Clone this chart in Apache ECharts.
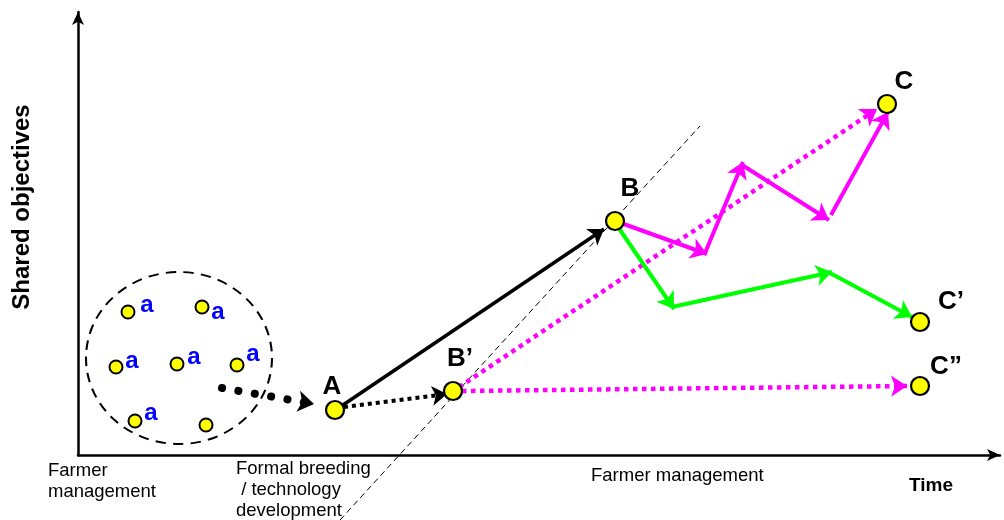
<!DOCTYPE html>
<html><head><meta charset="utf-8">
<script src="https://cdn.jsdelivr.net/npm/echarts@6/dist/echarts.min.js"></script>
<style>html,body{margin:0;padding:0;background:#fff}#c{width:1004px;height:520px}</style>
</head><body><div id="c"></div>
<script>
// Diagram coordinates: x = time units, y = shared-objective units (origin at axis corner)
const groupX = [50, 124, 38, 99, 159, 57, 128];
const groupY = [143, 148, 88, 91, 90, 34, 30];
const groupLabels = ['a', 'a', 'a', 'a', 'a', 'a', ''];
const groupCircle = [101, 97];

const keyNames = ['A', 'B\u2019', 'B', 'C', 'C\u2019', 'C\u201D'];
const keyX = [257, 375, 537, 809, 842, 842];
const keyY = [45, 64, 234, 351, 133, 69];

// arrows: [x1, y1, x2, y2]
const blackSolid = [[262, 48, 526, 226]];
const blackDotted = [[266, 48, 369, 61]];
const blackDots = [[144, 67, 236, 51]];
const magentaDotted = [[381, 68, 799, 346], [384, 64, 829, 69]];
const magentaSolid = [[543, 232, 629, 201], [627, 202, 665, 293], [664, 290, 751, 235], [753, 240, 810, 343]];
const greenSolid = [[540, 228, 596, 146], [594, 148, 754, 183], [752, 182, 834, 138]];
const guideLine = [[262, -65, 622, 329]];

const chart = echarts.init(document.getElementById('c'));
const toLines = arr => arr.map(s => ({ coords: [[s[0], s[1]], [s[2], s[3]]] }));
const F = '"Liberation Sans", Arial, sans-serif';

const groupOffsets = [[19, -7], [16, 5], [16, -6], [17, -7], [16, -11], [16, -8], [0, 0]];
const keyOffsets = [[-3, -23], [7, -32], [15, -32], [17, -22], [31, -20], [26, -19]];

function lineSeries(arr, color, width, type, arrow, size, cap) {
  return {
    type: 'lines', coordinateSystem: 'cartesian2d', polyline: false, clip: false,
    symbol: arrow ? ['none', 'arrow'] : ['none', 'none'], symbolSize: size || 15,
    lineStyle: { color: color, width: width, type: type, opacity: 1, curveness: 0, cap: cap || 'butt' },
    itemStyle: { color: color, opacity: 1 },
    data: toLines(arr), z: 3, silent: true
  };
}

chart.setOption({
  animation: false,
  grid: { left: 78, right: 4, top: 12, bottom: 65 },
  xAxis: {
    type: 'value', min: 0, max: 922,
    axisLine: { show: true, symbol: ['none', 'arrow'], symbolSize: [9, 13], lineStyle: { color: '#000', width: 2.5 } },
    axisTick: { show: false }, axisLabel: { show: false }, splitLine: { show: false }
  },
  yAxis: {
    type: 'value', min: 0, max: 443,
    axisLine: { show: true, symbol: ['none', 'arrow'], symbolSize: [9, 13], lineStyle: { color: '#000', width: 2.5 } },
    axisTick: { show: false }, axisLabel: { show: false }, splitLine: { show: false }
  },
  series: [
    {
      type: 'scatter', symbol: 'circle', symbolSize: [186, 172], silent: true, z: 1,
      itemStyle: { color: 'rgba(0,0,0,0)', borderColor: '#000', borderWidth: 2, borderType: [10, 7], opacity: 1 },
      data: [groupCircle]
    },
    lineSeries(guideLine, '#000', 1, [6, 4], false),
    lineSeries(blackDots, '#000', 8, [0.1, 16.5], true, 16, 'round'),
    lineSeries(blackSolid, '#000', 3.5, 'solid', true, 15),
    lineSeries(blackDotted, '#000', 4, [4, 4], true, 15),
    lineSeries(magentaDotted, '#FF00FF', 4.5, [4.5, 4.5], true, 16),
    lineSeries(magentaSolid, '#FF00FF', 4, 'solid', true, 16),
    lineSeries(greenSolid, '#00FF00', 4, 'solid', true, 16),
    {
      type: 'scatter', symbol: 'circle', symbolSize: 13, silent: true, z: 5,
      itemStyle: { color: '#FFFF00', borderColor: '#000', borderWidth: 2, opacity: 1 },
      label: { show: true, position: 'inside', color: '#0000FF', fontFamily: F, fontWeight: 'bold', fontSize: 24, textBorderWidth: 0 },
      data: groupX.map((x, i) => ({ value: [x, groupY[i]], label: { formatter: groupLabels[i], offset: groupOffsets[i] } }))
    },
    {
      type: 'scatter', symbol: 'circle', symbolSize: 18, silent: true, z: 6,
      itemStyle: { color: '#FFFF00', borderColor: '#000', borderWidth: 2.2, opacity: 1 },
      label: { show: true, position: 'inside', color: '#000', fontFamily: F, fontWeight: 'bold', fontSize: 26, textBorderWidth: 0 },
      data: keyX.map((x, i) => ({ value: [x, keyY[i]], label: { formatter: keyNames[i], offset: keyOffsets[i] } }))
    }
  ],
  graphic: [
    { type: 'text', x: 22, y: 207, rotation: Math.PI / 2, style: { text: 'Shared objectives', font: 'bold 24px ' + F, fill: '#000', textAlign: 'center', textVerticalAlign: 'middle' } },
    { type: 'text', x: 48, y: 460, style: { text: 'Farmer\nmanagement', font: '18.5px ' + F, fill: '#000', lineHeight: 21, textAlign: 'left', textVerticalAlign: 'top' } },
    { type: 'text', x: 236, y: 458, style: { text: 'Formal breeding\n / technology\ndevelopment', font: '18.5px ' + F, fill: '#000', lineHeight: 21, textAlign: 'left', textVerticalAlign: 'top' } },
    { type: 'text', x: 591, y: 466, style: { text: 'Farmer management', font: '18.5px ' + F, fill: '#000', textAlign: 'left', textVerticalAlign: 'top' } },
    { type: 'text', x: 931, y: 486, style: { text: 'Time', font: 'bold 19px ' + F, fill: '#000', textAlign: 'center', textVerticalAlign: 'middle' } }
  ]
});
</script></body></html>
